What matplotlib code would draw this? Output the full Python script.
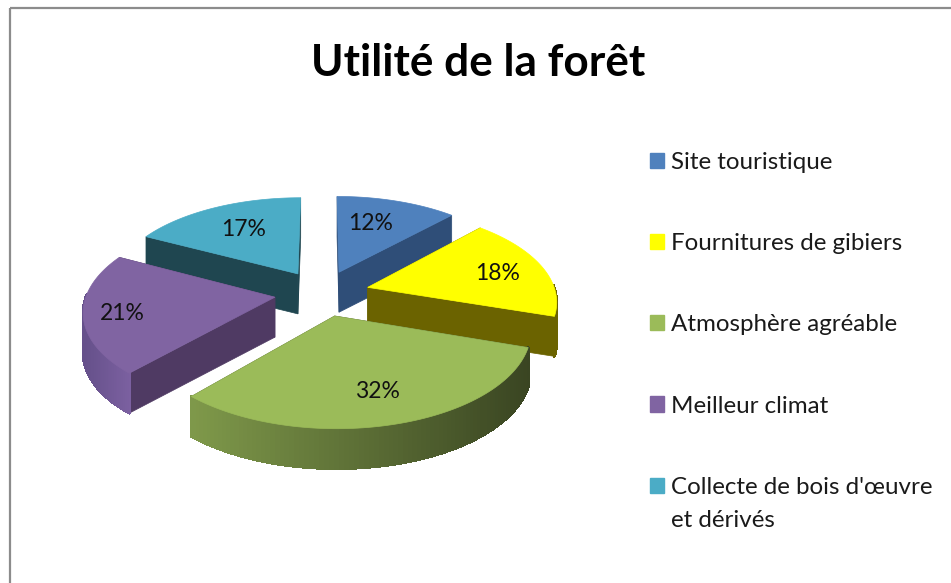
import numpy as np
import matplotlib
matplotlib.use("Agg")
import matplotlib.pyplot as plt
from matplotlib.patches import Polygon, Patch, Rectangle
from matplotlib.collections import PolyCollection

categories = ["Site touristique", "Fournitures de gibiers", "Atmosphère agréable",
              "Meilleur climat", "Collecte de bois d'œuvre\net dérivés"]
values = [12.0, 18.0, 31.6, 20.9, 17.4]
pct_labels = ["12%", "18%", "32%", "21%", "17%"]

top_colors = ["#4F81BD", "#FFFF00", "#9BBB59", "#8064A2", "#4BACC6"]
cut_colors = ["#2F4E78", "#6B6300", "#3F4C26", "#4F3A63", "#1F4650"]
wall_left = ["#3F6494", "#6B6300", "#7F994A", "#65508A", "#2E6E80"]
wall_right = ["#2F4E78", "#6B6300", "#3A4522", "#7B60A0", "#1F4650"]
label_xy = [(371, 224), (498, 274), (377, 392), (122, 313), (244, 229)]

CX, CY, A, B, K, EXPL, DEPTH = 322, 293, 188, 91, 0.133, 0.253, 40


def project(X, Y):
    """Plane coordinates (Y towards the viewer) to pixel position."""
    s = 1 / (1 - K * Y)
    return CX + A * X * s, CY + B * Y * s


def plane(theta, r, mid):
    return (np.sin(mid) * EXPL + r * np.sin(theta),
            -np.cos(mid) * EXPL - r * np.cos(theta))


fig = plt.figure(figsize=(9.51, 5.83), dpi=100, facecolor="white")
ax = fig.add_axes([0, 0, 1, 1])
ax.set_xlim(0, 951)
ax.set_ylim(583, 0)
ax.axis("off")

ax.add_patch(Rectangle((9.5, 8), 1000, 640, fill=False, ec="#8C8C8C", lw=1.6))

edges = np.deg2rad(np.concatenate([[0], np.cumsum(values)]) / np.sum(values) * 360)
draw_order = [0, 4, 1, 3, 2]
for i in draw_order:
    t0, t1 = edges[i], edges[i + 1]
    mid = (t0 + t1) / 2
    th = np.linspace(t0, t1, 90)
    ax_x, ax_y = project(*plane(th, 1.0, mid))
    ap_x, ap_y = project(*plane(mid, 0.0, mid))

    # radial cut faces
    for xe, ye in ((ax_x[0], ax_y[0]), (ax_x[-1], ax_y[-1])):
        ax.add_patch(Polygon([(ap_x, ap_y), (xe, ye), (xe, ye + DEPTH), (ap_x, ap_y + DEPTH)],
                             closed=True, fc=cut_colors[i], ec=cut_colors[i], lw=0.5))

    # outer wall with gradient by horizontal position along the arc (front side only)
    quads, cols = [], []
    c0 = np.array(matplotlib.colors.to_rgb(wall_left[i]))
    c1 = np.array(matplotlib.colors.to_rgb(wall_right[i]))
    span = ax_x.max() - ax_x.min()
    for j in range(len(th) - 1):
        if np.cos(th[j]) > 0.02 and np.cos(th[j + 1]) > 0.02:
            continue
        quads.append([(ax_x[j], ax_y[j]), (ax_x[j + 1], ax_y[j + 1]),
                      (ax_x[j + 1], ax_y[j + 1] + DEPTH), (ax_x[j], ax_y[j] + DEPTH)])
        f = (ax_x[j] - ax_x.min()) / span
        cols.append(c0 + (c1 - c0) * f)
    if quads:
        ax.add_collection(PolyCollection(quads, facecolors=cols, edgecolors=cols,
                                         linewidths=1.2, antialiaseds=False))

    # top face
    pts = np.column_stack([np.r_[ap_x, ax_x], np.r_[ap_y, ax_y]])
    ax.add_patch(Polygon(pts, closed=True, fc=top_colors[i], ec=top_colors[i], lw=0.5))

for (lx, ly), txt in zip(label_xy, pct_labels):
    ax.text(lx, ly, txt, ha="center", va="center", fontsize=16.5,
            family="Lato", color="#111111")

ax.text(478, 63, "Utilité de la forêt", ha="center", va="center", fontsize=31.8,
        family="Lato", weight="bold", color="black")

handles = [Patch(fc=c, ec=c) for c in top_colors]
leg = ax.legend(handles, categories, loc="upper left", bbox_to_anchor=(650 / 951, 1 - 152 / 583),
                frameon=False, prop={"family": "Lato", "size": 17.4},
                handlelength=0.58, handleheight=0.58, handletextpad=0.29,
                labelspacing=2.49, borderpad=0, borderaxespad=0)
for t in leg.get_texts():
    t.set_color("#1A1A1A")
    t.set_linespacing(1.7)
h = leg.legend_handles[-1]
h.set_y(h.get_y() + 13)

fig.savefig("out.png", dpi=100, facecolor="white")
